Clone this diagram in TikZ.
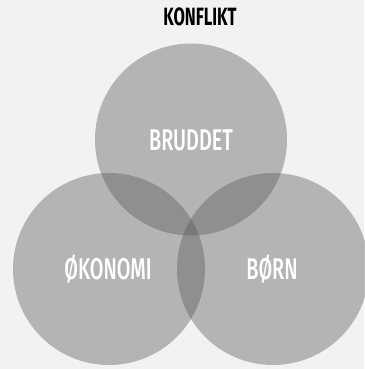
\documentclass[tikz,border=0pt]{standalone}
\usepackage{fontspec}
\newfontfamily\condfont{Fira Sans Medium}[FakeStretch=0.66]
\newfontfamily\condboldfont{Fira Sans}[FakeStretch=0.66]
\definecolor{bgcol}{HTML}{F2F2F2}
\definecolor{ringcol}{RGB}{88,88,88}
\begin{document}
\begin{tikzpicture}[x=1pt,y=-1pt,
  ring/.style={circle,minimum size=192pt,inner sep=0pt,fill=ringcol,fill opacity=0.4,text opacity=1},
  ringlabel/.style={text=white,font=\condfont\fontsize{30}{30}\selectfont},
  title/.style={text=black,font=\condboldfont\bfseries\fontsize{25}{25}\selectfont}]
  % page area with light background
  \fill[bgcol] (0,0) rectangle (364,369);
  \useasboundingbox (0,0) rectangle (364,369);
  % the three overlapping sets
  \node[ring] (top) at (191,139.5) {};
  \node[ring] (left) at (109,269) {};
  \node[ring] (right) at (273,269) {};
  % labels
  \node[ringlabel] (lbltop) at (191,140) {BRUDDET};
  \node[ringlabel] (lblleft) at (108,269) {ØKONOMI};
  \node[ringlabel] (lblright) at (272,269) {BØRN};
  \node[title] (heading) at (200,17) {KONFLIKT};
\end{tikzpicture}
\end{document}
